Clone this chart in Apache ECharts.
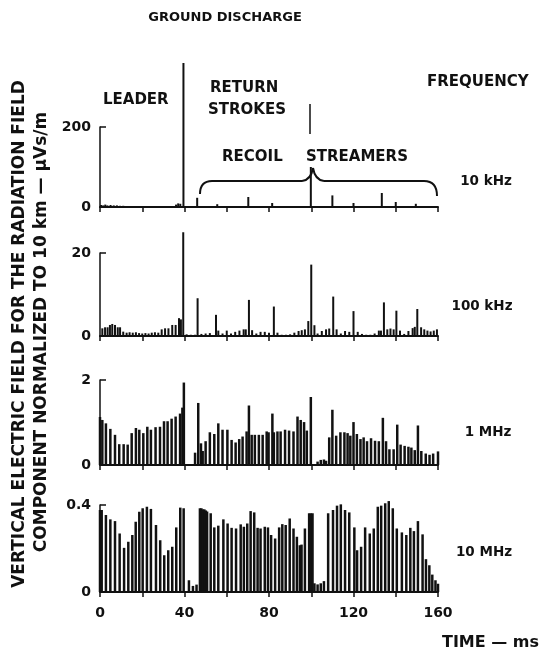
<!DOCTYPE html>
<html>
<head>
<meta charset="utf-8">
<script src="https://cdn.jsdelivr.net/npm/echarts@6/dist/echarts.min.js"></script>
<style>
html, body {margin: 0; padding: 0; background: #fff;}
#main {width: 539px; height: 652px;}
</style>
</head>
<body>
<div id="main"></div>
<script>
/* data: time (ms) and field value per spike */
var t10k = [0.5, 1.5, 2.5, 3.5, 5, 6.5, 8, 9.5, 11, 36, 37, 38, 39.5, 46, 55.5, 70.2, 81.5, 99.8, 110, 120, 133.4, 140, 149.5];
var v10k = [5, 4, 6, 4, 5, 4, 4, 3, 3, 6, 9, 8, 360, 23, 7, 25, 10, 100, 29, 10, 35, 12.5, 8];

var t100k = [1.1, 2.4, 3.6, 4.7, 5.8, 7.1, 8.4, 9.5, 11, 12.6, 14, 15.5, 17, 18.5, 20, 21.5, 23, 24.5, 26, 27.6, 29.2, 30.8, 32.4, 34.2, 35.8, 37.4, 38.3, 39.4, 41, 43, 45, 46.2, 48, 50, 52, 54.9, 56, 58, 60, 62, 64, 66, 68, 69, 70.5, 72, 74, 76, 78, 80, 82.3, 84, 86, 88, 90, 92, 94, 95.5, 97, 98.6, 100, 101.5, 103, 105, 107, 108.5, 110.4, 112, 114, 116, 118, 120, 122, 124, 126, 128, 130, 132, 133, 134.4, 136, 137.5, 139, 140.3, 142, 144, 146, 148, 149, 150.2, 152, 153.5, 155, 156.5, 158, 159.5];
var v100k = [1.85, 2.1, 2.1, 2.66, 2.9, 2.66, 2.1, 2.1, 1.05, 0.8, 0.9, 0.8, 0.9, 0.7, 0.6, 0.7, 0.6, 0.8, 0.9, 0.8, 1.6, 1.85, 1.85, 2.66, 2.66, 4.3, 4.0, 25, 0.4, 0.3, 0.3, 9.1, 0.5, 0.6, 0.7, 5.1, 1.3, 0.6, 1.3, 0.6, 1.0, 1.3, 1.6, 1.6, 8.7, 1.4, 0.6, 1.0, 1.0, 0.8, 7.1, 0.8, 0.3, 0.3, 0.4, 0.8, 1.2, 1.4, 1.6, 3.6, 17.2, 2.6, 0.6, 1.2, 1.6, 1.8, 9.5, 1.6, 0.6, 1.2, 1.0, 6.0, 1.0, 0.5, 0.3, 0.3, 0.6, 1.3, 1.3, 8.1, 1.6, 1.8, 1.6, 6.1, 1.3, 0.5, 1.2, 1.9, 2.2, 6.5, 2.1, 1.6, 1.3, 1.1, 1.3, 1.6];

var t1m = [0, 1.1, 2.8, 4.9, 7.1, 9.1, 11.2, 13.1, 15, 17, 18.6, 20.5, 22.4, 24.1, 26.3, 28.4, 30.3, 32, 33.9, 35.8, 37.9, 39, 39.7, 45, 46.5, 47.8, 48.6, 50, 52, 54.1, 56, 58, 60.3, 62.3, 64.2, 65.9, 67.5, 69.4, 70.5, 71.8, 73.3, 75.2, 77, 78.9, 79.8, 81.6, 82.3, 84, 85.5, 87.6, 89.5, 91.6, 93.5, 95, 96.6, 97.9, 99.8, 103, 104.5, 106, 107, 108.5, 110, 111.8, 113.8, 115.7, 117.2, 118.5, 120, 121.6, 123.3, 124.8, 126.4, 128.3, 130.2, 132, 133.9, 135.4, 137, 139, 140.7, 142.3, 144.2, 146, 147.4, 149, 150.5, 152.1, 154.2, 156, 157.7, 160];
var v1m = [1.13, 1.06, 0.98, 0.85, 0.71, 0.49, 0.49, 0.48, 0.75, 0.87, 0.83, 0.75, 0.9, 0.83, 0.89, 0.9, 1.03, 1.03, 1.09, 1.14, 1.21, 1.35, 1.94, 0.29, 1.46, 0.51, 0.33, 0.56, 0.77, 0.73, 0.98, 0.83, 0.83, 0.59, 0.53, 0.61, 0.67, 0.79, 1.4, 0.71, 0.71, 0.71, 0.71, 0.79, 0.77, 1.21, 0.77, 0.79, 0.79, 0.83, 0.81, 0.79, 1.14, 1.06, 1.01, 0.81, 1.6, 0.08, 0.12, 0.13, 0.1, 0.65, 1.3, 0.69, 0.77, 0.77, 0.75, 0.69, 1.01, 0.73, 0.61, 0.65, 0.56, 0.63, 0.57, 0.56, 1.11, 0.56, 0.37, 0.37, 0.95, 0.48, 0.45, 0.43, 0.41, 0.35, 0.93, 0.33, 0.27, 0.24, 0.27, 0.32];

var t10m = [0, 0.8, 2.8, 4.9, 7.1, 9.3, 11.4, 13.4, 15.3, 16.9, 18.6, 20.2, 22.2, 24.1, 26.5, 28.5, 30.4, 32.3, 34.2, 36.1, 38, 39.6, 42.1, 44, 45.7, 47.3, 48, 48.7, 49.4, 50.1, 50.7, 52.4, 54.1, 56, 58.4, 60.4, 62.3, 64.4, 66.6, 68.1, 69.7, 71.3, 73, 74.6, 76, 78, 79.5, 81, 82.9, 84.8, 86.3, 87.9, 89.8, 91.6, 93.2, 94.6, 95.4, 97, 99, 99.8, 100.6, 101.5, 103, 104.5, 106, 108, 110.3, 112.2, 114, 116, 118, 120.4, 121.7, 123.6, 125.5, 127.7, 129.6, 131.5, 133.1, 135, 136.7, 138.6, 140.5, 142.9, 145, 146.9, 148.6, 150.5, 152.7, 154.3, 155.9, 157.3, 158.8, 160];
var v10m = [0.377, 0.377, 0.354, 0.334, 0.326, 0.269, 0.203, 0.231, 0.262, 0.323, 0.369, 0.385, 0.392, 0.382, 0.308, 0.238, 0.169, 0.192, 0.208, 0.297, 0.388, 0.385, 0.054, 0.028, 0.034, 0.385, 0.385, 0.38, 0.38, 0.375, 0.37, 0.362, 0.297, 0.305, 0.334, 0.315, 0.295, 0.292, 0.311, 0.3, 0.315, 0.372, 0.366, 0.295, 0.292, 0.3, 0.297, 0.262, 0.246, 0.297, 0.312, 0.308, 0.338, 0.292, 0.254, 0.215, 0.218, 0.292, 0.362, 0.362, 0.362, 0.04, 0.035, 0.04, 0.05, 0.362, 0.377, 0.397, 0.403, 0.377, 0.366, 0.297, 0.192, 0.208, 0.297, 0.269, 0.292, 0.392, 0.397, 0.408, 0.418, 0.385, 0.292, 0.274, 0.262, 0.295, 0.28, 0.326, 0.265, 0.151, 0.123, 0.08, 0.054, 0.038];

var yMax = [200, 20, 2, 0.4];
var xTicks = [0, 40, 80, 120, 160];
var freqNames = ['10 kHz', '100 kHz', '1 MHz', '10 MHz'];

var times = [t10k, t100k, t1m, t10m];
var vals = [v10k, v100k, v1m, v10m];

var font = '"DejaVu Sans", sans-serif';
var ink = '#111';

// панели: положение сеток
var grids = [
  {left: 100, top: 127, width: 338, height: 80},
  {left: 100, top: 253, width: 338, height: 83},
  {left: 100, top: 380, width: 338, height: 85},
  {left: 100, top: 505, width: 338, height: 87}
];

var xAxes = [], yAxes = [], series = [];
for (var i = 0; i < 4; i++) {
  xAxes.push({
    type: 'value', gridIndex: i, min: 0, max: 160, interval: 20,
    axisLine: {show: true, lineStyle: {color: ink, width: 2}},
    axisTick: {show: true, length: 5, lineStyle: {color: ink, width: 1.5}},
    axisLabel: {
      show: i == 3, margin: 14, color: ink, fontSize: 14, fontWeight: 'bold', fontFamily: font,
      formatter: function (v) { return xTicks.indexOf(v) >= 0 ? String(v) : ''; }
    },
    splitLine: {show: false}
  });
  yAxes.push({
    type: 'value', gridIndex: i, min: 0, max: yMax[i], interval: yMax[i],
    axisLine: {show: true, lineStyle: {color: ink, width: 1.5}},
    axisTick: {show: true, inside: true, length: 6, lineStyle: {color: ink, width: 1.5}},
    axisLabel: {margin: 9, color: ink, fontSize: 14, fontWeight: 'bold', fontFamily: font},
    splitLine: {show: false}
  });
  series.push({
    type: 'bar', xAxisIndex: i, yAxisIndex: i,
    barWidth: i < 2 ? 2 : 2.5,
    clip: false,
    itemStyle: {color: ink},
    data: times[i].map(function (t, k) { return [t, vals[i][k]]; })
  });
}

function txt(s, x, y, size, align, extra) {
  var el = {
    type: 'text', x: x, y: y,
    style: {
      text: s, fill: ink, textAlign: align || 'left', textVerticalAlign: 'middle',
      font: 'bold ' + size + 'px ' + font
    }
  };
  if (extra) { for (var k in extra) el[k] = extra[k]; }
  return el;
}

var graphics = [
  txt('GROUND DISCHARGE', 225, 18, 13, 'center'),
  txt('LEADER', 103, 100, 15),
  txt('RETURN', 210, 88, 15),
  txt('STROKES', 208, 110, 15),
  txt('RECOIL', 222, 157, 15),
  txt('STREAMERS', 306, 157, 15),
  txt('FREQUENCY', 427, 82, 15),
  txt(freqNames[0], 486, 181, 13.5, 'center'),
  txt(freqNames[1], 482, 306, 13.5, 'center'),
  txt(freqNames[2], 488, 432, 13.5, 'center'),
  txt(freqNames[3], 484, 552, 13.5, 'center'),
  txt('TIME — ms', 442, 643, 16),
  txt('VERTICAL ELECTRIC FIELD FOR THE RADIATION FIELD', 20, 334, 17, 'center', {rotation: Math.PI / 2}),
  txt('COMPONENT NORMALIZED TO 10 km — μVs/m', 42, 332, 17, 'center', {rotation: Math.PI / 2}),
  // фигурная скобка над recoil streamers
  {type: 'bezierCurve', shape: {x1: 200, y1: 194, cpx1: 200, cpy1: 181, x2: 212, y2: 181}, style: {stroke: ink, lineWidth: 2, fill: null}},
  {type: 'line', shape: {x1: 212, y1: 181, x2: 302, y2: 181}, style: {stroke: ink, lineWidth: 2}},
  {type: 'bezierCurve', shape: {x1: 302, y1: 181, cpx1: 311, cpy1: 180, x2: 313, y2: 168}, style: {stroke: ink, lineWidth: 2, fill: null}},
  {type: 'bezierCurve', shape: {x1: 313, y1: 168, cpx1: 315, cpy1: 180, x2: 324, y2: 181}, style: {stroke: ink, lineWidth: 2, fill: null}},
  {type: 'line', shape: {x1: 324, y1: 181, x2: 424, y2: 181}, style: {stroke: ink, lineWidth: 2}},
  {type: 'bezierCurve', shape: {x1: 424, y1: 181, cpx1: 437, cpy1: 181, x2: 437, y2: 196}, style: {stroke: ink, lineWidth: 2, fill: null}},
  {type: 'line', shape: {x1: 310, y1: 104, x2: 310, y2: 134}, style: {stroke: ink, lineWidth: 1.5}}
];

var myChart = echarts.init(document.getElementById('main'));
option = {
  animation: false,
  backgroundColor: '#fff',
  grid: grids,
  xAxis: xAxes,
  yAxis: yAxes,
  series: series,
  graphic: graphics
};
myChart.setOption(option);
</script>
</body>
</html>
